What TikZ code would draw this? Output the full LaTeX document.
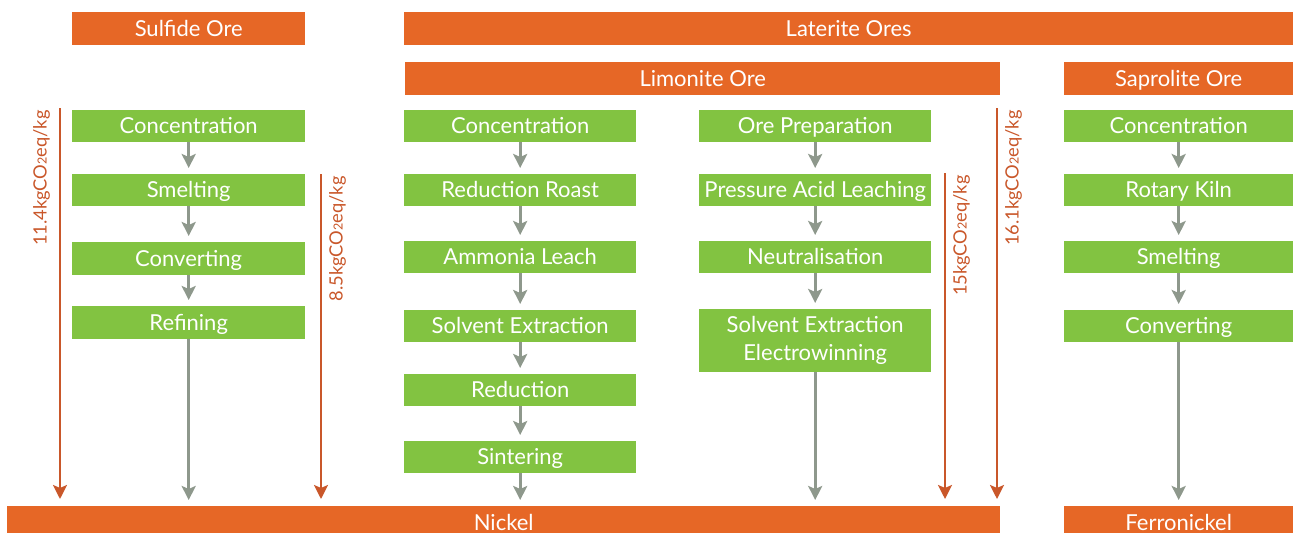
\documentclass[tikz,border=0pt]{standalone}
\usepackage{fontspec}
\setmainfont{Lato}
\usetikzlibrary{arrows.meta}
\definecolor{oranj}{HTML}{E66726}
\definecolor{oline}{HTML}{C9572A}
\definecolor{grn}{HTML}{82C341}
\definecolor{gry}{HTML}{8E988C}
\tikzset{
  boxbase/.style={text=white,inner sep=0pt,anchor=north west,font=\fontsize{22}{24}\selectfont},
  oneline/.style={text height=20pt,text depth=4.6pt},
  bottomline/.style={text height=24pt,text depth=2.6pt},
  obox/.style={boxbase,oneline,fill=oranj},
  gbox/.style={boxbase,oneline,fill=grn,minimum width=232pt,minimum height=32pt},
  gtwo/.style={boxbase,fill=grn,minimum width=232pt,minimum height=63pt,align=center,font=\fontsize{22}{28}\selectfont},
  garrow/.style={draw=gry,line width=3pt,-{Stealth[length=14pt,width=14pt,inset=3pt]},shorten >=6pt},
  oarrow/.style={draw=oline,line width=2.5pt,-{Stealth[length=14pt,width=14pt,inset=3pt]},shorten >=7pt},
  co2/.style={text=oline,rotate=90,anchor=north east,inner sep=0pt,font=\fontsize{18.3}{20}\selectfont}
}
\newcommand{\cotwo}[1]{#1kgCO{\fontsize{12.5}{13}\selectfont 2}eq/kg}
\begin{document}
\begin{tikzpicture}[x=1pt,y=-1pt]
\useasboundingbox (0,0) rectangle (1293,533);
% headers
\node[obox,minimum width=233pt,minimum height=33pt] (sulf) at (72,12) {Sulfide Ore};
\node[obox,minimum width=889pt,minimum height=33pt] (lat) at (404,12) {Laterite Ores};
\node[obox,minimum width=595pt,minimum height=33pt] (lim) at (405,62) {Limonite Ore};
\node[obox,minimum width=229pt,minimum height=33pt] (sap) at (1064,62) {Saprolite Ore};
\node[obox,bottomline,minimum width=993pt,minimum height=27pt] (nick) at (7,506) {Nickel};
\node[obox,bottomline,minimum width=229pt,minimum height=27pt] (fen) at (1064,506) {Ferronickel};
% sulfide column
\node[gbox,minimum width=233pt] (s1) at (72,110) {Concentration};
\node[gbox,minimum width=233pt] (s2) at (72,174) {Smelting};
\node[gbox,minimum width=233pt,minimum height=33pt] (s3) at (72,242) {Converting};
\node[gbox,minimum width=233pt,minimum height=33pt] (s4) at (72,306) {Refining};
% limonite left
\node[gbox] (a1) at (404,110) {Concentration};
\node[gbox] (a2) at (404,174) {Reduction Roast};
\node[gbox] (a3) at (404,241) {Ammonia Leach};
\node[gbox] (a4) at (404,310) {Solvent Extraction};
\node[gbox] (a5) at (404,374) {Reduction};
\node[gbox] (a6) at (404,441) {Sintering};
% limonite right
\node[gbox] (b1) at (699,110) {Ore Preparation};
\node[gbox] (b2) at (699,174) {Pressure Acid Leaching};
\node[gbox] (b3) at (699,241) {Neutralisation};
\node[gtwo] (b4) at (699,309) {Solvent Extraction\\Electrowinning};
% saprolite
\node[gbox,minimum width=229pt] (c1) at (1064,110) {Concentration};
\node[gbox,minimum width=229pt] (c2) at (1064,174) {Rotary Kiln};
\node[gbox,minimum width=229pt] (c3) at (1064,241) {Smelting};
\node[gbox,minimum width=229pt] (c4) at (1064,310) {Converting};
% gray arrows
\foreach \u/\v in {s1/s2,s2/s3,s3/s4,a1/a2,a2/a3,a3/a4,a4/a5,a5/a6,b1/b2,b2/b3,b3/b4,c1/c2,c2/c3,c3/c4}
  \draw[garrow] (\u.south) -- (\v.north);
\draw[garrow] (s4.south) -- (s4.south |- nick.north);
\draw[garrow] (a6.south) -- (a6.south |- nick.north);
\draw[garrow] (b4.south) -- (b4.south |- nick.north);
\draw[garrow] (c4.south) -- (c4.south |- fen.north);
% orange arrows
\coordinate (o1) at (60,108);
\coordinate (o2) at (321,174);
\coordinate (o3) at (945,173);
\coordinate (o4) at (997,108);
\foreach \o in {o1,o2,o3,o4}
  \draw[oarrow] (\o) -- (\o |- nick.north);
\node[co2] (l1) at (33,110) {\cotwo{11.4}};
\node[co2] (l2) at (329,176) {\cotwo{8.5}};
\node[co2] (l3) at (953,175) {\cotwo{15}};
\node[co2] (l4) at (1005,110) {\cotwo{16.1}};
\end{tikzpicture}
\end{document}
